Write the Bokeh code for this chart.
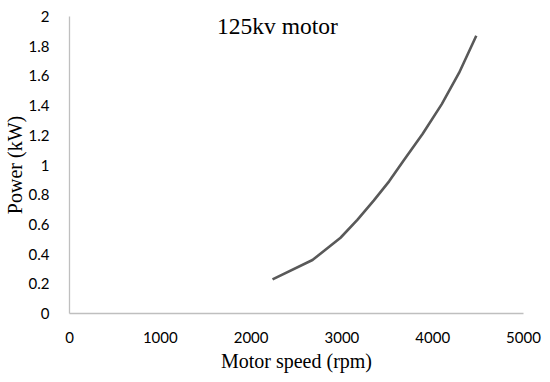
from bokeh.plotting import figure
from bokeh.models import Range1d, FixedTicker, Label
from bokeh.embed import file_html
from bokeh.resources import INLINE

speed = [2236, 2676, 2985, 3170, 3350, 3520, 3680, 3890, 4100, 4290, 4480]
power = [0.23, 0.36, 0.51, 0.63, 0.76, 0.89, 1.03, 1.21, 1.41, 1.62, 1.87]

x_ticks = [0, 1000, 2000, 3000, 4000, 5000]
y_ticks = [0, 0.2, 0.4, 0.6, 0.8, 1.0, 1.2, 1.4, 1.6, 1.8, 2.0]
y_tick_labels = ["0", "0.2", "0.4", "0.6", "0.8", "1", "1.2", "1.4", "1.6", "1.8", "2"]

title_text = "125kv motor"
x_label = "Motor speed (rpm)"
y_label = "Power (kW)"

p = figure(width=550, height=382, output_backend="svg", toolbar_location=None,
           x_range=Range1d(0, 5000), y_range=Range1d(0, 2),
           min_border_left=69, min_border_right=27, min_border_top=16, min_border_bottom=69)
p.outline_line_color = None
p.xgrid.visible = False
p.ygrid.visible = False

p.line(speed, power, line_color="#595959", line_width=2.6)

for ax in (p.xaxis[0], p.yaxis[0]):
    ax.axis_line_color = "#bfbfbf"
    ax.axis_line_width = 1.3
    ax.major_tick_line_color = None
    ax.minor_tick_line_color = None
    ax.major_label_text_font = "Lato"
    ax.major_label_text_font_size = "15px"
    ax.major_label_text_color = "#000000"
    ax.axis_label_text_font = "Liberation Serif"
    ax.axis_label_text_font_size = "20px"
    ax.axis_label_text_font_style = "normal"
    ax.axis_label_text_color = "#000000"

p.xaxis.ticker = FixedTicker(ticks=x_ticks)
p.yaxis.ticker = FixedTicker(ticks=y_ticks)
p.yaxis.major_label_overrides = {t: l for t, l in zip(y_ticks, y_tick_labels)}
p.xaxis.axis_label = x_label
p.yaxis.axis_label = y_label
p.xaxis.major_label_standoff = 12
p.yaxis.major_label_standoff = 14
p.xaxis.axis_label_standoff = 4
p.yaxis.axis_label_standoff = 0

p.add_layout(Label(x=2290, y=1.935, text=title_text, text_font="Liberation Serif",
                   text_font_size="23.5px", text_align="center", text_baseline="middle",
                   text_color="#000000"))

open("out.html", "w").write(file_html(p, INLINE))
